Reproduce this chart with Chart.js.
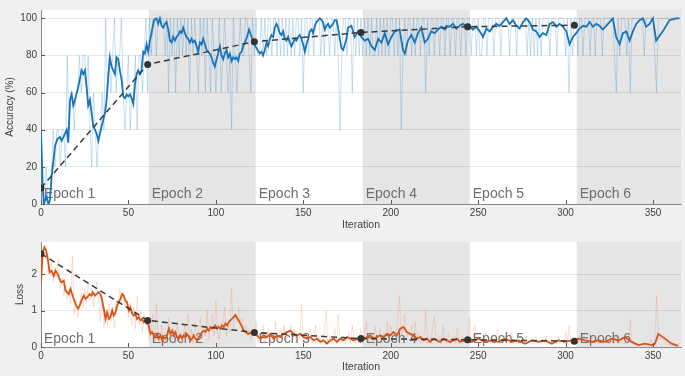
<!DOCTYPE html>
<html>
<head>
<meta charset="utf-8">
<script src="https://cdn.jsdelivr.net/npm/chart.js@4.4.1/dist/chart.umd.min.js"></script>
<style>
  html, body { margin: 0; padding: 0; background: #f0f0f0; }
  #wrap { position: relative; width: 685px; height: 376px; }
  #accWrap { position: absolute; left: 0; top: 0; width: 685px; height: 232px; }
  #lossWrap { position: absolute; left: 0; top: 232px; width: 685px; height: 144px; }
</style>
</head>
<body>
<div id="wrap">
  <div id="accWrap"><canvas id="accChart"></canvas></div>
  <div id="lossWrap"><canvas id="lossChart"></canvas></div>
</div>
<script>
// epochs
const epochs = ['Epoch 1', 'Epoch 2', 'Epoch 3', 'Epoch 4', 'Epoch 5', 'Epoch 6'];
const epochStart = [0, 61.6, 122.8, 184, 245.2, 306.4];
const iterMax = 366;
const xTicks = [0, 50, 100, 150, 200, 250, 300, 350];

// validation (iteration, value)
const valIter = [0, 61, 122, 183, 244, 305];
const valAcc = [8.6, 75.2, 87.4, 92.4, 95.5, 96.3];
const valLoss = [2.56, 0.73, 0.40, 0.23, 0.20, 0.16];

// smoothed accuracy [iteration, %]
const accSmooth = [
  [0,39],[1,10],[1.7,0],[3.2,4],[4.2,0],[5.1,2],[6.1,15],[8,31],[9.3,35],[10.9,36],[11.8,34],[12.8,36],
  [14.7,40],[15.6,33],[16.6,56],[17.5,59],[18.5,53],[19.4,56],[21.3,63],[23.2,72],[24.2,70],[25.1,72],
  [26.1,63],[27,53],[28,56],[29.9,42],[31.8,38],[32.8,34],[34.7,42],[36.6,49],[37.5,56],[38.5,69],
  [39.4,79],[40.4,74],[41.3,72],[42.3,70],[43.2,79],[44.2,78],[45.1,72],[46.1,67],[47,58],[48,57],
  [49,59],[49.9,58],[50.9,59],[51.8,57],[52.8,54],[53.7,64],[54.7,70],[55.6,72],[56.6,70],[57.5,72],
  [58.5,82],[59.4,81],[60.4,86],[61.3,82],[62.3,88],[63.2,92],[64.6,99],[66.1,100],[67,97],[68,100],
  [69,96],[69.9,95],[70.9,97],[71.8,98],[72.8,94],[73.7,88],[74.7,87],[75.6,90],[76.6,88],[77.5,90],
  [78.5,91],[79.4,93],[80.4,92],[81.3,95],[82.3,92],[83.2,90],[84.2,89],[85.1,87],[86.1,89],[87,87],
  [88,88],[89,85],[89.9,82],[90.9,87],[91.8,86],[92.8,89],[93.7,86],[94.7,83],[95.6,82],[96.6,81],
  [97.5,79],[98.5,76],[99.4,74],[100.4,78],[101.3,81],[102.3,85],[103.2,80],[104.2,78],[105.1,81],
  [106.1,83],[107,79],[108,81],[109,77],[109.9,79],[110.9,78],[111.8,79],[112.8,77],[113.7,81],
  [114.7,82],[115.6,85],[117.5,89],[119,94],[120.4,90],[121.3,87],[123.2,84],[125.1,81],[126.1,82],
  [127,80],[128,83],[129,87],[129.9,85],[130.9,89],[131.8,91],[132.8,90],[133.7,95],[134.7,97],
  [135.6,95],[136.6,92],[137.5,91],[138.5,93],[139.4,89],[140.4,88],[141.3,90],[142.3,87],[143.2,85],
  [144.2,87],[145.1,89],[146.1,88],[147,90],[148,91],[149,89],[149.9,86],[150.9,82],[151.8,86],
  [152.8,89],[153.7,93],[154.7,94],[155.6,92],[156.6,96],[157.5,98],[158.5,99],[159.4,100],[160.4,99],
  [161.3,98],[162.3,94],[163.2,96],[164.2,97],[165.1,95],[166.1,96],[167,97],[168,99],[169,99],
  [169.9,95],[170.9,89],[171.8,84],[172.8,83],[174.7,89],[175.6,95],[177.5,96],[179.4,90],[181.4,93],
  [183.2,90],[185.1,88],[187,89],[189,85],[190.9,83],[192.8,89],[194.7,87],[196.6,92],[198.5,86],
  [200.4,90],[202.3,93],[205.1,94],[207,83],[208,81],[209.9,88],[211.8,91],[213.7,87],[215.6,92],
  [217.5,95],[219.4,87],[221.3,89],[223.2,93],[225.1,92],[227,94],[229,95.5],[230.9,94],[231.8,96],
  [233.7,95.5],[235.6,97],[237.5,94.5],[239.4,96],[241.3,97],[243.2,95.5],[245.1,96],[247,94],
  [248.9,95.5],[250.9,93],[252.8,90],[254.7,94.5],[256.6,93],[258.5,95.5],[260.4,97],[262.3,96],
  [264.2,98],[266.1,100],[268,97],[269.9,99],[271.8,96],[273.7,94.5],[275.6,98],[277.5,100],[279.4,98],
  [281.3,94],[283.2,93],[285.1,90],[287,92],[289,91],[290.9,97],[292.8,98],[294.7,95.5],[296.6,97],
  [298.5,95.5],[300.4,93],[302.3,86],[304.2,90],[306.1,92],[308,94.5],[310,96],[311.9,95.5],[313.7,98],
  [315.6,95.5],[317.5,97],[319.4,96],[321.3,94],[323.2,96],[325.1,98],[327,100],[328.9,90],[330.9,86],
  [332.8,92],[334.7,93],[336.6,88],[338.5,93],[340.4,97],[342.3,99],[344.2,100],[346.1,95.5],[348,97],
  [349.9,100],[351.8,88],[355.6,93],[359.4,99],[363.2,100],[365.1,100]
];

// raw accuracy per iteration (0..365)
const accRaw = [
  40,0,0,20,0,0,20,40,20,40, 40,20,40,40,20,80,40,60,60,40, 60,60,80,60,80,80,60,80,40,20,
  60,40,20,40,40,60,40,100,60,80, 60,80,100,60,80,80,100,60,40,60, 80,40,60,60,80,40,80,80,60,80, 100,
  60,100,80,100,100,80,100,100,100,100, 80,100,60,100,80,100,60,100,80,100, 80,100,80,100,60,100,80,100,80,60,
  100,80,100,60,100,80,60,100,80,60, 80,100,60,80,100,80,60,80,40,100, 80,60,80,100,80,80,100,100,80,60,100,
  80,100,80,80,100,80,100,80,100,100, 80,100,100,80,100,80,100,80,100,80, 100,80,100,80,100,100,80,100,60,100,
  100,80,100,100,80,100,100,100,80,100, 80,100,100,80,100,100,80,100,80,40, 80,100,100,80,100,100,60,100,80,100,80,
  100,80,100,80,100,80,100,80,80,100, 80,100,80,100,80,100,80,100,100,80, 100,80,100,40,80,100,80,100,100,80,
  100,80,100,100,80,100,100,60,100,80, 100,100,80,100,100,80,100,100,80,100, 100,80,100,100,80,100,100,80,100,100,80,
  100,100,80,100,100,80,100,80,80,100, 100,80,100,100,100,80,100,100,100,80, 100,100,100,100,80,100,100,100,80,100,
  100,100,100,100,80,100,80,100,80,100, 80,100,80,100,100,100,100,80,100,100, 100,80,100,100,100,100,80,100,60,100,80,
  100,100,80,100,100,80,100,100,100,80, 100,100,80,100,100,100,80,100,100,100, 100,100,100,80,60,100,80,100,100,100,
  80,100,60,100,100,100,100,100,100,100, 80,100,100,100,100,100,80,60,100,100, 100,100,100,100,100,100,100,100,100,100,100
];

// smoothed loss [iteration, loss]
const lossSmooth = [
  [0,1.77],[1,2.6],[2,2.73],[3,2.64],[3.9,2.4],[4.9,2.05],[6,2.09],[7.3,1.95],[8.3,2.09],[9.6,2.0],
  [10.6,1.86],[11.7,1.77],[13,1.82],[14,1.55],[15,1.5],[15.9,1.45],[16.9,1.59],[17.8,1.45],[19.1,1.27],
  [20.1,1.14],[21.2,1.05],[22.2,1.14],[23.1,1.27],[24.5,1.41],[25.4,1.32],[26.4,1.36],[27.7,1.45],
  [28.9,1.41],[29.6,1.5],[30.8,1.41],[31.7,1.45],[33,1.5],[34,1.45],[35,1.27],[35.9,1.05],[36.9,0.77],
  [37.8,0.95],[38.8,0.77],[39.7,0.82],[40.7,1.0],[41.6,0.86],[42.6,0.95],[43.5,1.14],[44.5,1.23],
  [45.4,1.32],[46.4,1.45],[47.3,1.41],[48.3,1.27],[49.2,1.23],[50.2,1.0],[51.1,1.09],[52.1,0.93],
  [53,0.86],[54,0.91],[54.9,0.77],[55.9,0.82],[56.9,0.73],[57.8,0.77],[58.8,0.68],[59.7,0.73],
  [60.7,0.64],[61.6,0.59],[62.6,0.36],[63.5,0.41],[64.5,0.32],[65.4,0.27],[66.4,0.36],[67.3,0.23],
  [68.3,0.32],[69.3,0.18],[70.2,0.27],[71.2,0.23],[72.1,0.32],[73.1,0.5],[74,0.36],[75,0.45],
  [75.9,0.32],[76.9,0.41],[77.8,0.27],[78.8,0.23],[79.7,0.32],[80.7,0.23],[81.6,0.32],[82.6,0.27],
  [83.5,0.36],[84.5,0.27],[85.4,0.18],[86.4,0.23],[87.3,0.32],[88.3,0.23],[89.2,0.18],[90.2,0.27],
  [91.1,0.32],[92.1,0.41],[93,0.45],[94,0.41],[95,0.5],[95.9,0.45],[96.9,0.55],[97.8,0.5],[98.8,0.55],
  [99.7,0.59],[100.7,0.5],[101.6,0.55],[102.6,0.5],[103.5,0.59],[104.5,0.55],[105.4,0.64],[106.4,0.59],
  [107.3,0.68],[108.3,0.73],[109.2,0.77],[110.2,0.82],[111.1,0.88],[112.1,0.8],[113,0.73],[114,0.64],
  [115,0.55],[115.9,0.45],[116.9,0.41],[118.8,0.36],[120.7,0.41],[123.5,0.32],[125.4,0.23],[127.3,0.32],
  [129.2,0.27],[131.1,0.36],[133,0.23],[135,0.32],[136.9,0.27],[138.8,0.36],[140.7,0.41],[142.6,0.45],
  [144.5,0.36],[146.4,0.32],[148.3,0.36],[150.2,0.27],[152.1,0.23],[154,0.27],[155.9,0.18],[157.8,0.23],
  [159.7,0.14],[161.6,0.18],[163.5,0.09],[165.4,0.18],[167.3,0.23],[169.2,0.14],[171.1,0.23],[173,0.18],
  [175,0.27],[176.9,0.23],[178.8,0.18],[180.7,0.23],[182.6,0.14],[184.5,0.23],[186.4,0.27],[188.3,0.32],
  [190.2,0.23],[192.1,0.27],[194,0.32],[195.9,0.27],[197.8,0.36],[199.7,0.32],[201.6,0.41],[203.5,0.32],
  [205.4,0.5],[207.3,0.55],[209.2,0.41],[211.1,0.36],[213,0.32],[215,0.23],[216.9,0.27],[218.8,0.18],
  [220.7,0.23],[222.6,0.14],[224.5,0.23],[226.4,0.18],[228.3,0.14],[230.2,0.23],[232.1,0.18],[234,0.14],
  [235.9,0.18],[237.8,0.23],[239.7,0.14],[241.6,0.18],[243.5,0.14],[246.4,0.14],[250.2,0.23],[254,0.14],
  [257.8,0.18],[261.6,0.14],[265.4,0.23],[269.2,0.14],[273,0.18],[276.8,0.09],[280.7,0.18],[284.5,0.14],
  [288.3,0.18],[292.1,0.09],[295.9,0.18],[299.7,0.14],[303.5,0.18],[307.3,0.23],[311.1,0.18],[314.9,0.14],
  [318.8,0.18],[322.6,0.14],[326.4,0.23],[330.2,0.18],[334,0.27],[337.8,0.14],[341.6,0.05],[345.4,0.09],
  [349.2,0.05],[351.1,0.09],[353,0.36],[356.8,0.23],[360.6,0.09],[364.4,0.03]
];

// raw loss per iteration (0..365)
const lossRaw = [
  1.75,2.7,2.8,2.4,2.6,2.0,2.3,1.8,2.2,1.9, 2.4,1.6,1.9,1.4,1.7,1.3,1.6,1.2,2.5,0.9, 1.3,0.8,1.2,1.5,1.1,1.6,1.2,1.8,1.3,1.6,
  1.1,1.5,1.8,1.2,0.7,1.4,0.5,1.0,0.6,1.2, 0.7,1.1,0.5,1.3,1.0,1.6,1.2,1.5,1.1,1.3, 0.8,1.2,0.6,1.1,0.5,1.4,0.6,1.0,0.4,0.9, 0.7,
  0.6,0.2,0.5,0.9,0.1,1.2,0.3,0.1,0.6,0.2, 0.4,0.1,0.8,0.3,0.2,0.5,0.1,0.7,0.2,0.4, 0.1,0.6,0.3,0.9,0.2,0.5,0.1,0.7,0.3,0.4,
  0.8,0.2,0.6,0.3,1.0,0.2,0.5,0.9,0.3,1.3, 0.4,0.2,0.7,0.5,1.1,0.3,0.6,0.4,1.6,0.5, 0.9,0.7,1.1,0.6,0.8,0.4,0.6,0.3,0.5,0.2,0.4,
  0.3,0.7,0.1,0.4,0.2,0.6,0.1,0.3,0.5,0.1, 0.4,0.2,0.7,0.1,0.3,0.5,0.2,0.6,0.1,0.4, 0.3,0.6,0.2,0.5,0.1,0.3,0.2,1.2,0.2,0.4,
  0.1,0.3,0.5,0.1,0.2,0.6,0.1,0.3,0.1,0.2, 0.4,1.0,0.1,0.3,0.1,0.2,0.5,0.1,0.9,0.2, 0.1,0.3,0.1,0.2,0.4,0.1,0.6,0.2,0.1,0.3,0.2,
  0.5,0.1,0.3,0.7,0.1,0.2,0.4,0.1,0.6,0.2, 0.3,0.5,0.1,0.4,0.2,0.7,0.3,0.6,0.2,0.4, 0.3,0.8,1.4,0.3,0.5,0.9,0.2,0.4,0.3,0.6,
  0.1,0.7,0.2,0.4,0.1,0.3,0.2,1.0,0.1,0.3, 0.2,0.5,0.85,0.2,0.1,0.3,0.1,0.6,0.2,0.1, 0.4,0.1,0.2,0.3,0.1,0.5,0.1,0.2,0.3,0.1,0.2,
  0.1,0.8,0.1,0.2,0.6,0.1,0.3,0.1,0.2,0.1, 0.4,0.1,0.2,0.1,0.3,0.1,0.2,0.5,0.1,0.2, 0.1,0.3,0.1,0.2,0.1,0.4,0.1,0.2,0.1,0.1,
  0.3,0.1,0.2,0.1,0.3,0.1,0.2,0.1,0.1,0.3, 0.1,0.2,0.1,0.2,0.1,0.3,0.1,0.2,0.1,0.1, 0.2,0.1,0.3,0.1,0.2,0.1,0.4,0.1,0.6,0.1,0.2,
  0.1,0.2,0.1,0.3,0.1,0.2,0.1,0.1,0.2,0.1, 0.3,0.1,0.2,0.1,0.1,0.2,0.1,0.1,0.3,0.1, 0.1,0.2,0.1,0.1,0.3,0.1,0.1,0.2,0.1,0.1,
  0.1,0.2,0.75,0.1,0.1,0.05,0.1,0.05,0.1,0.05, 0.1,0.05,0.1,0.05,0.2,0.05,0.1,1.4,0.3,0.2, 0.3,0.2,0.1,0.1,0.05,0.05,0.05,0.05,0.05,0.05,0.1
];

const FONT = '"Liberation Sans", Arial, sans-serif';

// white plot area, grey bands for even epochs, epoch labels, inner tick marks
const epochPlugin = {
  id: 'epochBands',
  beforeDraw(chart) {
    const { ctx, chartArea: a, scales: { x } } = chart;
    ctx.save();
    ctx.fillStyle = '#ffffff';
    ctx.fillRect(a.left, a.top, a.right - a.left, a.bottom - a.top);
    ctx.fillStyle = '#e5e5e5';
    epochStart.forEach((s, i) => {
      if (i % 2 === 1) {
        const e = i + 1 < epochStart.length ? epochStart[i + 1] : x.max;
        const x0 = x.getPixelForValue(s);
        const x1 = Math.min(x.getPixelForValue(e), a.right);
        ctx.fillRect(x0, a.top, x1 - x0, a.bottom - a.top);
      }
    });
    ctx.restore();
  },
  beforeDatasetsDraw(chart, args, opts) {
    const { ctx, chartArea: a, scales: { x } } = chart;
    ctx.save();
    ctx.font = '14px ' + FONT;
    ctx.fillStyle = '#6e6e6e';
    ctx.textBaseline = 'alphabetic';
    epochs.forEach((lbl, i) => {
      ctx.fillText(lbl, x.getPixelForValue(epochStart[i]) + 3, a.bottom - opts.labelLift);
    });
    ctx.restore();
  },
  afterDraw(chart) {
    const { ctx, chartArea: a, scales: { x, y } } = chart;
    ctx.save();
    ctx.strokeStyle = '#5a5a5a';
    ctx.lineWidth = 1;
    ctx.beginPath();
    x.ticks.forEach(t => {
      const px = Math.round(x.getPixelForValue(t.value)) + 0.5;
      ctx.moveTo(px, a.bottom);
      ctx.lineTo(px, a.bottom - 4);
    });
    y.ticks.forEach(t => {
      const py = Math.round(y.getPixelForValue(t.value)) + 0.5;
      ctx.moveTo(a.left, py);
      ctx.lineTo(a.left + 4, py);
    });
    ctx.stroke();
    ctx.restore();
  }
};

function makeChart(id, cfg) {
  return new Chart(document.getElementById(id), {
    type: 'line',
    data: {
      datasets: [
        {
          data: valIter.map((it, i) => ({ x: it, y: cfg.val[i] })),
          borderColor: '#3a3a3a',
          borderDash: [6, 4],
          borderWidth: 1.5,
          pointRadius: 3.5,
          pointBackgroundColor: '#333333',
          pointBorderWidth: 0
        },
        {
          data: cfg.smooth.map(p => ({ x: p[0], y: p[1] })),
          borderColor: cfg.color,
          borderWidth: 1.8,
          pointRadius: 0
        },
        {
          data: cfg.raw.map((v, i) => ({ x: i, y: v })),
          borderColor: cfg.rawColor,
          borderWidth: 1,
          pointRadius: 0
        }
      ]
    },
    options: {
      responsive: true,
      maintainAspectRatio: false,
      animation: false,
      events: [],
      layout: { padding: { top: 10, right: 4, left: 0, bottom: 0 } },
      plugins: {
        legend: { display: false },
        tooltip: { enabled: false },
        epochBands: { labelLift: cfg.labelLift }
      },
      scales: {
        x: {
          type: 'linear',
          min: 0,
          max: iterMax,
          afterFit: s => { s.height = cfg.xAxisH; },
          afterBuildTicks: s => { s.ticks = xTicks.map(v => ({ value: v })); },
          grid: { display: false, drawTicks: false },
          border: { display: true, color: '#8a8a8a', width: 1 },
          ticks: { padding: 3, color: '#404040', font: { family: FONT, size: 10 }, maxRotation: 0, autoSkip: false },
          title: { display: true, text: 'Iteration', color: '#404040', font: { family: FONT, size: 10.5 },
                   padding: { top: 0, bottom: cfg.xTitlePad } }
        },
        y: {
          min: 0,
          max: cfg.yMax,
          afterFit: s => { s.width = 41; },
          afterBuildTicks: s => { s.ticks = cfg.yTicks.map(v => ({ value: v })); },
          grid: { color: 'rgba(0,0,0,0.09)', drawTicks: false },
          border: { display: true, color: '#8a8a8a', width: 1 },
          ticks: { padding: 4, color: '#404040', font: { family: FONT, size: 10 } },
          title: { display: true, text: cfg.yTitle, color: '#404040', font: { family: FONT, size: 10 },
                   padding: { top: cfg.yTitlePad, bottom: 0 } }
        }
      }
    },
    plugins: [epochPlugin]
  });
}

makeChart('accChart', {
  val: valAcc, smooth: accSmooth, raw: accRaw,
  color: '#1874b9', rawColor: 'rgba(60,140,205,0.28)',
  yMax: 104.5, yTicks: [0, 20, 40, 60, 80, 100], yTitle: 'Accuracy (%)', yTitlePad: 4,
  xAxisH: 28, xTitlePad: 1, labelLift: 6
});

makeChart('lossChart', {
  val: valLoss, smooth: lossSmooth, raw: lossRaw,
  color: '#d9541a', rawColor: 'rgba(235,135,85,0.24)',
  yMax: 2.88, yTicks: [0, 1, 2], yTitle: 'Loss', yTitlePad: 14,
  xAxisH: 29, xTitlePad: 3, labelLift: 4
});
</script>
</body>
</html>
